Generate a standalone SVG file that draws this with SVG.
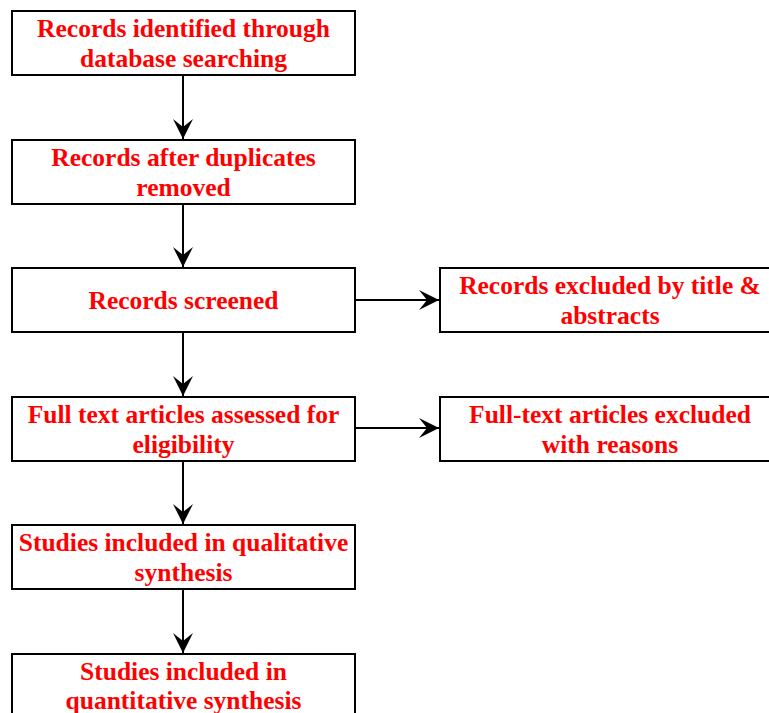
<svg xmlns="http://www.w3.org/2000/svg" width="769" height="713" viewBox="0 0 769 713">
<style>
.box{fill:#ffffff;stroke:#000000;stroke-width:2}
.t{font-family:"Liberation Serif","Times New Roman",serif;font-weight:bold;font-size:25.5px;fill:#ff0000;text-anchor:middle}
.c{stroke:#000000;stroke-width:2;fill:none}
</style>
<defs>
<marker id="ah" markerUnits="userSpaceOnUse" markerWidth="24" markerHeight="24" viewBox="0 0 24 24" refX="22" refY="12" orient="auto">
<path d="M2,2 L22,12 L2,22 L10,12 Z" fill="#000000"/>
</marker>
</defs>
<rect width="769" height="713" fill="#ffffff"/>
<g id="connectors">
<line class="c" x1="183" y1="75" x2="183" y2="139" marker-end="url(#ah)"/>
<line class="c" x1="183" y1="204" x2="183" y2="267" marker-end="url(#ah)"/>
<line class="c" x1="183" y1="332" x2="183" y2="396" marker-end="url(#ah)"/>
<line class="c" x1="183" y1="461" x2="183" y2="524" marker-end="url(#ah)"/>
<line class="c" x1="183" y1="589" x2="183" y2="653" marker-end="url(#ah)"/>
<line class="c" x1="355" y1="300" x2="439" y2="300" marker-end="url(#ah)"/>
<line class="c" x1="355" y1="428" x2="439" y2="428" marker-end="url(#ah)"/>
</g>
<g id="n1">
<rect class="box" x="12" y="11" width="343" height="64"/>
<text class="t" x="183.5" y="37">Records identified through</text>
<text class="t" x="183.5" y="67">database searching</text>
</g>
<g id="n2">
<rect class="box" x="12" y="140" width="343" height="64"/>
<text class="t" x="183.5" y="166">Records after duplicates</text>
<text class="t" x="183.5" y="196">removed</text>
</g>
<g id="n3">
<rect class="box" x="12" y="268" width="343" height="64"/>
<text class="t" x="183.5" y="309">Records screened</text>
</g>
<g id="n4">
<rect class="box" x="12" y="397" width="343" height="64"/>
<text class="t" x="183.5" y="423">Full text articles assessed for</text>
<text class="t" x="183.5" y="453">eligibility</text>
</g>
<g id="n5">
<rect class="box" x="12" y="525" width="343" height="64"/>
<text class="t" x="183.5" y="551">Studies included in qualitative</text>
<text class="t" x="183.5" y="581">synthesis</text>
</g>
<g id="n6">
<rect class="box" x="12" y="654" width="343" height="64"/>
<text class="t" x="183.5" y="680">Studies included in</text>
<text class="t" x="183.5" y="709">quantitative synthesis</text>
</g>
<g id="n7">
<rect class="box" x="440" y="268" width="340" height="64"/>
<text class="t" x="610" y="294">Records excluded by title &amp;</text>
<text class="t" x="610" y="324">abstracts</text>
</g>
<g id="n8">
<rect class="box" x="440" y="397" width="340" height="64"/>
<text class="t" x="610" y="423">Full-text articles excluded</text>
<text class="t" x="610" y="453">with reasons</text>
</g>
</svg>
